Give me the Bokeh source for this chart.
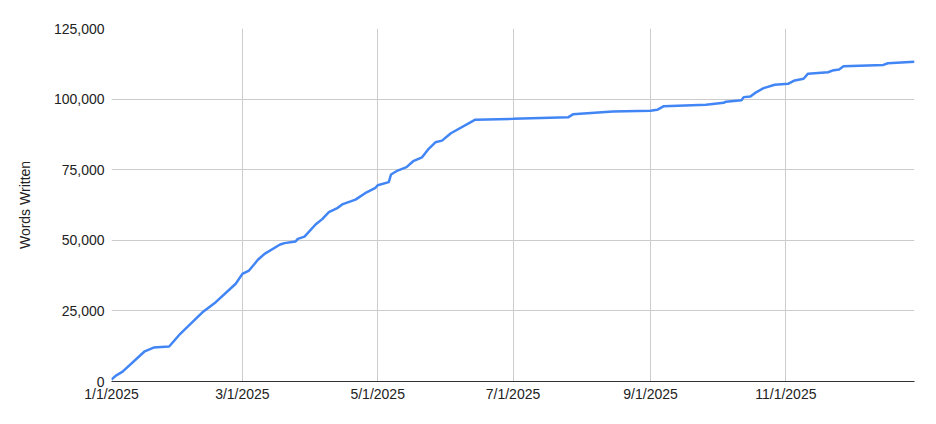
import pandas as pd
from bokeh.plotting import figure
from bokeh.models import FixedTicker, NumeralTickFormatter, Range1d, ColumnDataSource
from bokeh.embed import file_html
from bokeh.resources import INLINE

start_date = "2025-01-01"
dates = ["2025-01-01", "2025-01-03", "2025-01-06", "2025-01-16", "2025-01-20", "2025-01-27",
         "2025-02-01", "2025-02-04", "2025-02-11", "2025-02-17", "2025-02-26", "2025-03-01",
         "2025-03-04", "2025-03-08", "2025-03-11", "2025-03-18", "2025-03-20", "2025-03-25",
         "2025-03-26", "2025-03-29", "2025-04-03", "2025-04-06", "2025-04-09", "2025-04-13",
         "2025-04-15", "2025-04-21", "2025-04-26", "2025-04-30", "2025-05-01", "2025-05-06",
         "2025-05-07", "2025-05-10", "2025-05-14", "2025-05-17", "2025-05-21", "2025-05-24",
         "2025-05-27", "2025-05-30", "2025-06-03", "2025-06-14", "2025-07-01", "2025-07-26",
         "2025-07-28", "2025-08-15", "2025-09-01", "2025-09-04", "2025-09-07", "2025-09-26",
         "2025-10-04", "2025-10-05", "2025-10-12", "2025-10-13", "2025-10-16", "2025-10-18",
         "2025-10-22", "2025-10-27", "2025-11-02", "2025-11-05", "2025-11-09", "2025-11-11",
         "2025-11-20", "2025-11-22", "2025-11-25", "2025-11-27", "2025-12-15", "2025-12-17",
         "2025-12-29"]
words = [700, 2100, 3500, 10700, 12000, 12400,
         16900, 19200, 24500, 28100, 34600, 38100,
         39300, 43100, 45200, 48500, 49000, 49600,
         50500, 51300, 55600, 57500, 60000, 61500,
         62700, 64400, 67000, 68600, 69500, 70600,
         73300, 74700, 75900, 78000, 79400, 82400,
         84700, 85300, 87900, 92700, 93000, 93600,
         94600, 95600, 95900, 96200, 97500, 98000,
         98700, 99100, 99600, 100700, 100900, 102100,
         103900, 105100, 105400, 106600, 107200, 109000,
         109500, 110100, 110500, 111600, 112100, 112700,
         113200]

tick_dates = ["2025-01-01", "2025-03-01", "2025-05-01", "2025-07-01", "2025-09-01", "2025-11-01"]
tick_labels = ["1/1/2025", "3/1/2025", "5/1/2025", "7/1/2025", "9/1/2025", "11/1/2025"]
y_ticks = [0, 25000, 50000, 75000, 100000, 125000]
y_title = "Words Written"

t0 = pd.Timestamp(start_date)
days = [int((pd.Timestamp(d) - t0).days) for d in dates]
tick_days = [int((pd.Timestamp(d) - t0).days) for d in tick_dates]

src = ColumnDataSource(dict(x=days, y=words))

p = figure(width=936, height=424, output_backend="svg", toolbar_location=None,
           x_range=Range1d(0, days[-1]), y_range=Range1d(0, 125000),
           min_border_left=111, min_border_right=22, min_border_top=28, min_border_bottom=43)
p.outline_line_color = None
p.background_fill_color = "white"
p.border_fill_color = "white"

p.line("x", "y", source=src, line_color="#4285F4", line_width=2.5)

FONT = "Liberation Sans"
TXT = "#222222"

p.xaxis.ticker = FixedTicker(ticks=tick_days)
p.xaxis.major_label_overrides = {k: v for k, v in zip(tick_days, tick_labels)}
p.xaxis.axis_line_color = "#333333"
p.xaxis.axis_line_width = 1
p.xaxis.major_tick_line_color = None
p.xaxis.minor_tick_line_color = None
p.xaxis.major_tick_out = 0
p.xaxis.major_tick_in = 0
p.xaxis.major_label_standoff = 4
p.xaxis.major_label_text_font = FONT
p.xaxis.major_label_text_font_size = "14px"
p.xaxis.major_label_text_color = TXT

p.yaxis.ticker = FixedTicker(ticks=y_ticks)
p.yaxis.formatter = NumeralTickFormatter(format="0,0")
p.yaxis.axis_line_color = None
p.yaxis.major_tick_line_color = None
p.yaxis.minor_tick_line_color = None
p.yaxis.major_tick_out = 0
p.yaxis.major_tick_in = 0
p.yaxis.major_label_standoff = 7
p.yaxis.major_label_text_font = FONT
p.yaxis.major_label_text_font_size = "14px"
p.yaxis.major_label_text_color = TXT
p.yaxis.axis_label = y_title
p.yaxis.axis_label_text_font = FONT
p.yaxis.axis_label_text_font_size = "14px"
p.yaxis.axis_label_text_font_style = "normal"
p.yaxis.axis_label_text_color = TXT
p.yaxis.axis_label_standoff = 18

p.xgrid.grid_line_color = "#cccccc"
p.ygrid.grid_line_color = "#cccccc"
p.xgrid.grid_line_width = 1
p.ygrid.grid_line_width = 1

open("out.html", "w").write(file_html(p, INLINE))
